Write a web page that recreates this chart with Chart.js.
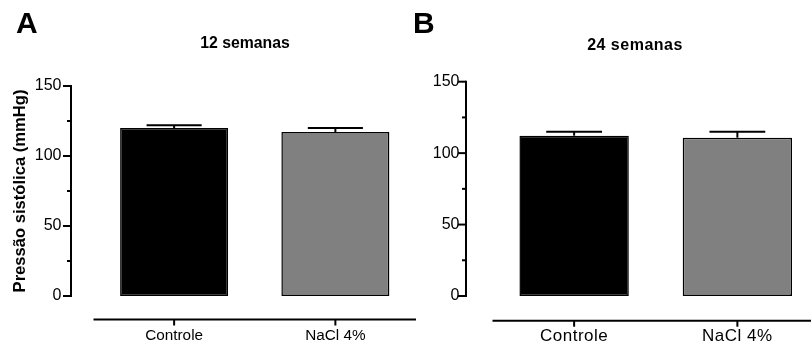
<!DOCTYPE html>
<html><head><meta charset="utf-8">
<script src="https://cdn.jsdelivr.net/npm/chart.js@4.4.1/dist/chart.umd.min.js"></script>
<style>
html,body{margin:0;padding:0;background:#fff;overflow:hidden;}
#stage{position:relative;width:811px;height:345px;overflow:hidden;background:#fff;}
canvas{position:absolute;top:0;}
.lbl{position:absolute;font-family:"Liberation Sans",Arial,sans-serif;font-weight:bold;color:#000;white-space:nowrap;line-height:1;}
</style></head><body>
<div id="stage">
  <canvas id="chartA" width="416" height="345" style="left:0px;width:416px;height:345px"></canvas>
  <canvas id="chartB" width="414" height="345" style="left:405px;width:414px;height:345px"></canvas>
  <div class="lbl" id="panelA" style="left:16px;top:7.5px;font-size:30px">A</div>
  <div class="lbl" id="panelB" style="left:413px;top:8px;font-size:30px">B</div>
  <div class="lbl" id="titleA" style="left:145px;width:200px;text-align:center;top:34.8px;font-size:15.8px"></div>
  <div class="lbl" id="titleB" style="left:535px;width:200px;text-align:center;top:36.5px;font-size:16px;letter-spacing:0.5px"></div>
</div>
<script>
// ---- data ----
const categories = ['Controle', 'NaCl 4%'];
const titles = ['12 semanas', '24 semanas'];
const panelLetters = ['A', 'B'];
const valuesA = [120.0, 117.1];
const errorsA = [1.9, 2.9];
const valuesB = [112.2, 110.8];
const errorsB = [2.8, 4.2];
const yTicks = [0, 25, 50, 75, 100, 125, 150];
const yLabelled = [0, 50, 100, 150];
const yTitle = 'Pressão sistólica (mmHg)';
const barColors = ['#000000', '#808080'];

document.getElementById('panelA').textContent = panelLetters[0];
document.getElementById('panelB').textContent = panelLetters[1];
document.getElementById('titleA').textContent = titles[0];
document.getElementById('titleB').textContent = titles[1];

const FAMILY = '"Liberation Sans", Arial, sans-serif';

const prismAxes = {
  id: 'prismAxes',
  afterDatasetsDraw(chart, args, opts) {
    const ctx = chart.ctx, ca = chart.chartArea;
    const x = chart.scales.x, y = chart.scales.y;
    const ax = ca.left - opts.yGap;
    const ay = ca.bottom + opts.xGap;
    ctx.save();
    ctx.strokeStyle = '#000';
    ctx.lineWidth = 2;
    ctx.lineCap = 'butt';
    // y axis
    ctx.beginPath();
    ctx.moveTo(ax, y.getPixelForValue(y.max) - 1);
    ctx.lineTo(ax, y.getPixelForValue(y.min) + 1);
    ctx.stroke();
    y.ticks.forEach(t => {
      const py = y.getPixelForValue(t.value);
      const len = yLabelled.includes(t.value) ? 8 : 4;
      ctx.beginPath();
      ctx.moveTo(ax - len, py);
      ctx.lineTo(ax, py);
      ctx.stroke();
    });
    // x axis
    ctx.beginPath();
    ctx.moveTo(x.left, ay);
    ctx.lineTo(x.right, ay);
    ctx.stroke();
    x.ticks.forEach((t, i) => {
      const px = x.getPixelForTick(i);
      ctx.beginPath();
      ctx.moveTo(px, ay);
      ctx.lineTo(px, ay + 6);
      ctx.stroke();
    });
    // error bars (upper only)
    const meta = chart.getDatasetMeta(0);
    const data = chart.data.datasets[0].data;
    meta.data.forEach((bar, i) => {
      const v = data[i];
      const top = y.getPixelForValue(v + opts.errors[i]);
      const bt = y.getPixelForValue(v);
      const half = bar.width * 0.255;
      ctx.beginPath();
      ctx.moveTo(bar.x, bt);
      ctx.lineTo(bar.x, top);
      ctx.stroke();
      ctx.beginPath();
      ctx.moveTo(bar.x - half, top);
      ctx.lineTo(bar.x + half, top);
      ctx.stroke();
    });
    ctx.restore();
  }
};

const spacedLabels = {
  id: 'spacedLabels',
  beforeDraw(chart, args, opts) {
    if (!opts.spacing) return;
    const sc = chart.scales.x;
    if (!sc._spacedWrap) {
      const orig = sc.drawLabels.bind(sc);
      sc.drawLabels = function (area) {
        const c = this.ctx;
        c.save();
        c.letterSpacing = opts.spacing;
        orig(area);
        c.restore();
      };
      sc._spacedWrap = true;
    }
  }
};

function makeChart(id, values, errors, cfg) {
  return new Chart(document.getElementById(id), {
    type: 'bar',
    data: {
      labels: categories,
      datasets: [{
        data: values,
        backgroundColor: barColors,
        borderColor: '#000',
        borderWidth: 1.5,
        borderSkipped: false,
        categoryPercentage: 1,
        barPercentage: 0.67
      }]
    },
    options: {
      responsive: false,
      animation: false,
      devicePixelRatio: 1,
      events: [],
      layout: { padding: { top: cfg.top, left: 0, right: 0, bottom: 0 } },
      plugins: {
        legend: { display: false },
        tooltip: { enabled: false },
        title: { display: false },
        prismAxes: { yGap: cfg.yGap, xGap: cfg.xGap, errors: errors },
        spacedLabels: { spacing: cfg.labelSpacing }
      },
      scales: {
        x: {
          type: 'category',
          offset: true,
          grid: { display: false, drawTicks: false },
          border: { display: false },
          ticks: { color: '#000', font: { family: FAMILY, size: cfg.xFont }, padding: cfg.xPad, maxRotation: 0, autoSkip: false },
          afterFit(s) { s.height = 49; }
        },
        y: {
          min: 0,
          max: 150,
          grid: { display: false, drawTicks: false },
          border: { display: false },
          afterBuildTicks(s) { s.ticks = yTicks.map(v => ({ value: v })); },
          ticks: {
            color: '#000',
            autoSkip: false,
            font: { family: FAMILY, size: 16 },
            padding: cfg.tickPad,
            callback: v => (yLabelled.includes(v) ? String(v) : '')
          },
          title: {
            display: cfg.showTitle,
            text: yTitle,
            color: '#000',
            font: { family: FAMILY, size: 16.6, weight: 'bold' },
            padding: { top: 10, bottom: 0 }
          },
          afterFit(s) { s.width = cfg.yWidth; }
        }
      }
    },
    plugins: [prismAxes, spacedLabels]
  });
}

makeChart('chartA', valuesA, errorsA, { top: 86, yWidth: 93.5, tickPad: 32, yGap: 22.5, xGap: 23.5, showTitle: true, labelSpacing: null, xFont: 15.3, xPad: 30.5 });
makeChart('chartB', valuesB, errorsB, { top: 81.7, yWidth: 87.5, tickPad: 33, yGap: 26.5, xGap: 24.7, showTitle: false, labelSpacing: '0.5px', xFont: 17, xPad: 30 });
</script>
</body></html>
